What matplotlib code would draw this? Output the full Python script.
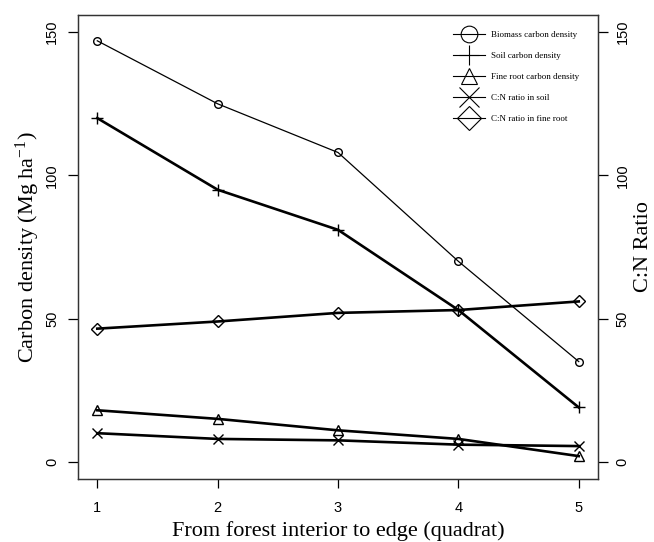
import matplotlib
matplotlib.use("Agg")
import matplotlib.pyplot as plt
from matplotlib.lines import Line2D

plt.rcParams['font.family'] = ['Liberation Serif', 'DejaVu Serif']
plt.rcParams['mathtext.fontset'] = 'custom'
plt.rcParams['mathtext.rm'] = 'Liberation Serif'
plt.rcParams['mathtext.it'] = 'Liberation Serif:italic'

# -------------------------
# data
# -------------------------
quadrat = [1, 2, 3, 4, 5]
biomass_c = [147.0, 125.0, 108.0, 70.0, 35.0]
soil_c = [120.0, 95.0, 81.0, 53.0, 19.0]
fineroot_c = [18.0, 15.0, 11.0, 8.0, 2.0]
cn_soil = [10.0, 8.0, 7.5, 6.0, 5.5]
cn_fineroot = [46.5, 49.0, 52.0, 53.0, 56.0]
yticks = [0, 50, 100, 150]

labels = ["Biomass carbon density", "Soil carbon density",
          "Fine root carbon density", "C:N ratio in soil",
          "C:N ratio in fine root"]
markers = ["o", "+", "^", "x", "D"]
msizes = [5.5, 8, 6.5, 6.5, 6.2]

fig = plt.figure(figsize=(6.54, 5.42), dpi=100)
ax = fig.add_axes([0.1193, 0.1162, 0.7951, 0.8561])
ax2 = ax.twinx()

kw = dict(color="black", mfc="none", mec="black", mew=1.0)
ax.plot(quadrat, biomass_c, marker=markers[0], ms=msizes[0], lw=0.9, **kw)
ax.plot(quadrat, soil_c, marker=markers[1], ms=msizes[1], lw=1.9, **kw)
ax.plot(quadrat, fineroot_c, marker=markers[2], ms=msizes[2], lw=1.9, **kw)
ax2.plot(quadrat, cn_soil, marker=markers[3], ms=msizes[3], lw=1.9, **kw)
ax2.plot(quadrat, cn_fineroot, marker=markers[4], ms=msizes[4], lw=1.9, **kw)

for a in (ax, ax2):
    a.set_xlim(0.84, 5.16)
    a.set_ylim(-6, 156)
    a.set_yticks(yticks)
    for s in a.spines.values():
        s.set_linewidth(0.9)
        s.set_color("#333333")

ax.set_xticks(quadrat)
ax.tick_params(axis="x", direction="out", length=6.5, width=0.9, pad=9,
               labelsize=10.5)
ax.tick_params(axis="y", direction="out", length=7.5, width=0.9, pad=6,
               labelsize=10.5, labelrotation=90)
ax2.tick_params(axis="y", direction="out", length=7.5, width=0.9, pad=5,
                labelsize=10.5, labelrotation=90)
for lbl in ax.get_xticklabels() + ax.get_yticklabels() + ax2.get_yticklabels():
    lbl.set_family("Liberation Sans")
for lbl in ax.get_yticklabels() + ax2.get_yticklabels():
    lbl.set_va("center")

ax.set_xlabel("From forest interior to edge (quadrat)", fontsize=16, labelpad=5)
ax.set_ylabel("Carbon density (Mg ha$^{-1}$)", fontsize=16, labelpad=2)
ax2.set_ylabel("C:N Ratio", fontsize=16, labelpad=3)

# legend with big symbols and thin lines
handles = [Line2D([], [], color="black", lw=0.8, marker=m, ms=12 if m not in "+x" else 15,
                  mfc="none", mec="black", mew=0.8) for m in markers]
ax2.legend(handles, labels, loc="upper left",
           bbox_to_anchor=(453 / 654, 1 - 31 / 542), bbox_transform=fig.transFigure,
           frameon=False, fontsize=6.5, handlelength=3.5, handletextpad=0.75,
           labelspacing=1.4, borderpad=0, borderaxespad=0)

fig.savefig("out.png", dpi=100)
